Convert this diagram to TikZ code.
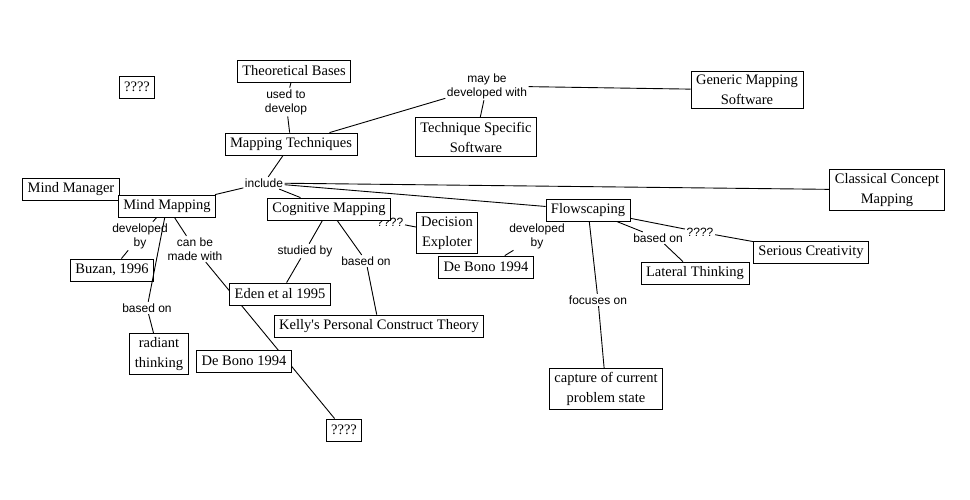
\documentclass[tikz,border=0pt]{standalone}
\usepackage{fontspec}
\setmainfont{Liberation Serif}
\newfontfamily\linkfont{Liberation Sans}
\usetikzlibrary{backgrounds}

\tikzset{
  concept/.style={draw, fill=white, line width=0.8pt, inner xsep=5pt, inner ysep=4pt,
    minimum height=22pt, align=center, font=\fontsize{14.5}{20}\selectfont},
  linkphrase/.style={inner sep=1.5pt, align=center, font=\linkfont\fontsize{12}{14}\selectfont},
  link/.style={line width=0.9pt}
}

\begin{document}
\begin{tikzpicture}[x=1pt,y=-1pt]
\useasboundingbox (0,0) rectangle (970,500);
% linking phrases
\node[linkphrase] (usedto) at (286,102) {used to\\develop};
\node[linkphrase] (maybe) at (487,86) {may be\\developed with};
\node[linkphrase] (incl) at (264,183) {include};
\node[linkphrase] (devby1) at (140,236) {developed\\by};
\node[linkphrase] (canbe) at (195,249) {can be\\made with};
\node[linkphrase] (based1) at (147,308) {based on};
\node[linkphrase] (studied) at (305,251) {studied by};
\node[linkphrase] (based2) at (366,261) {based on};
\node[linkphrase] (q2) at (390,222) {????};
\node[linkphrase] (devby2) at (537,236) {developed\\by};
\node[linkphrase] (based3) at (658,238) {based on};
\node[linkphrase] (q3) at (700,232) {????};
\node[linkphrase] (focus) at (598,300) {focuses on};
% concepts
\node[concept] (qtl) at (137,87) {????};
\node[concept] (tb) at (294,71) {Theoretical Bases};
\node[concept] (mt) at (291,144) {Mapping Techniques};
\node[concept] (tss) at (476,137) {Technique Specific\\Software};
\node[concept] (gms) at (747,90) {Generic Mapping\\Software};
\node[concept] (mman) at (71,189) {Mind Manager};
\node[concept] (mmap) at (167,206) {Mind Mapping};
\node[concept] (cog) at (329,209) {Cognitive Mapping};
\node[concept] (flow) at (588,210) {Flowscaping};
\node[concept] (ccm) at (887,190) {Classical Concept\\Mapping};
\node[concept] (dex) at (447,233) {Decision\\Exploter};
\node[concept] (db2) at (486,267) {De Bono 1994};
\node[concept] (lat) at (695,273) {Lateral Thinking};
\node[concept] (ser) at (811,252) {Serious Creativity};
\node[concept] (buz) at (112,270) {Buzan, 1996};
\node[concept] (eden) at (280,294) {Eden et al 1995};
\node[concept] (kel) at (379,326) {Kelly\textquotesingle s Personal Construct Theory};
\node[concept] (rad) at (159,354) {radiant\\thinking};
\node[concept] (db1) at (244,361) {De Bono 1994};
\node[concept] (qbot) at (344,430) {????};
\node[concept] (cap) at (606,389) {capture of current\\problem state};
% connectors
\begin{pgfonlayer}{background}
\draw[link] (tb) -- (usedto);
\draw[link] (usedto) -- (mt);
\draw[link] (mt) -- (maybe);
\draw[link] (maybe) -- (gms);
\draw[link] (maybe) -- (tss);
\draw[link] (mt) -- (incl);
\draw[link] (incl) -- (mmap);
\draw[link] (incl) -- (cog);
\draw[link] (incl) -- (ccm);
\draw[link] (incl) -- (flow);
\draw[link] (mmap) -- (devby1);
\draw[link] (devby1) -- (buz);
\draw[link] (mmap) -- (canbe);
\draw[link] (canbe) -- (qbot);
\draw[link] (cog) -- (studied);
\draw[link] (studied) -- (eden);
\draw[link] (cog) -- (based2);
\draw[link] (based2) -- (kel);
\draw[link] (q2) -- (dex);
\draw[link] (flow) -- (devby2);
\draw[link] (devby2) -- (db2);
\draw[link] (flow) -- (focus);
\draw[link] (focus) -- (cap);
\draw[link] (flow) -- (based3);
\draw[link] (based3) -- (lat);
\draw[link] (flow) -- (q3);
\draw[link] (q3) -- (ser);
\end{pgfonlayer}
\draw[link] (mmap) -- (based1);
\draw[link] (based1) -- (rad);
\end{tikzpicture}
\end{document}
